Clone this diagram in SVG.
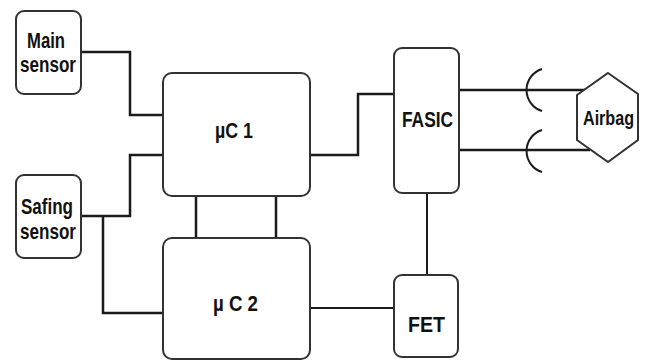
<svg xmlns="http://www.w3.org/2000/svg" width="646" height="361" viewBox="0 0 646 361">
<style>
.box{fill:#fff;stroke:#333;stroke-width:2}
.ln{fill:none;stroke:#1a1a1a;stroke-width:2.5}
.t{font-family:"Liberation Sans",Arial,sans-serif;font-weight:bold;font-size:22px;fill:#111}
</style>
<rect width="646" height="361" fill="#fff"/>
<g id="connectors">
<polyline class="ln" points="81,52 130,52 130,115 163,115"/>
<polyline class="ln" points="163,155 130,155 130,216 81,216"/>
<polyline class="ln" points="103,216 103,313 163,313"/>
<line class="ln" x1="196" y1="196" x2="196" y2="238"/>
<line class="ln" x1="276" y1="196" x2="276" y2="238"/>
<polyline class="ln" points="310,155 358,155 358,94 394,94"/>
<line class="ln" x1="459" y1="90" x2="590" y2="90"/>
<line class="ln" x1="459" y1="150" x2="590" y2="150"/>
<line class="ln" x1="427" y1="193" x2="427" y2="275" style="stroke-width:2"/>
<line class="ln" x1="310" y1="308" x2="394" y2="308" style="stroke-width:2"/>
<path class="ln" d="M542,69 A22,22 0 0 0 542,111" style="stroke-width:2"/>
<path class="ln" d="M542,130 A22,22 0 0 0 542,172" style="stroke-width:2"/>
</g>
<g id="main-sensor">
<rect class="box" x="16" y="11" width="65" height="83" rx="8"/>
<text class="t" x="27" y="48" textLength="38" lengthAdjust="spacingAndGlyphs">Main</text>
<text class="t" x="20" y="72" textLength="56" lengthAdjust="spacingAndGlyphs">sensor</text>
</g>
<g id="safing-sensor">
<rect class="box" x="16" y="175" width="65" height="83" rx="8"/>
<text class="t" x="21" y="214" textLength="52" lengthAdjust="spacingAndGlyphs">Safing</text>
<text class="t" x="20" y="239" textLength="56" lengthAdjust="spacingAndGlyphs">sensor</text>
</g>
<g id="uc1">
<rect class="box" x="163" y="73" width="147" height="123" rx="9"/>
<text class="t" x="215" y="138" textLength="38" lengthAdjust="spacingAndGlyphs">µC 1</text>
</g>
<g id="uc2">
<rect class="box" x="163" y="238" width="147" height="121" rx="9"/>
<text class="t" x="213" y="311" textLength="45" lengthAdjust="spacingAndGlyphs">µ C 2</text>
</g>
<g id="fasic">
<rect class="box" x="394" y="48" width="65" height="145" rx="8"/>
<text class="t" x="402" y="127" textLength="51" lengthAdjust="spacingAndGlyphs">FASIC</text>
</g>
<g id="fet">
<rect class="box" x="394" y="275" width="64" height="82" rx="8"/>
<text class="t" x="408" y="332" textLength="37" lengthAdjust="spacingAndGlyphs">FET</text>
</g>
<g id="airbag">
<polygon class="box" points="608,73 638,94 638,140 608,162 577,140 577,95"/>
<text class="t" x="583" y="125" style="font-size:21px" textLength="51" lengthAdjust="spacingAndGlyphs">Airbag</text>
</g>
</svg>
